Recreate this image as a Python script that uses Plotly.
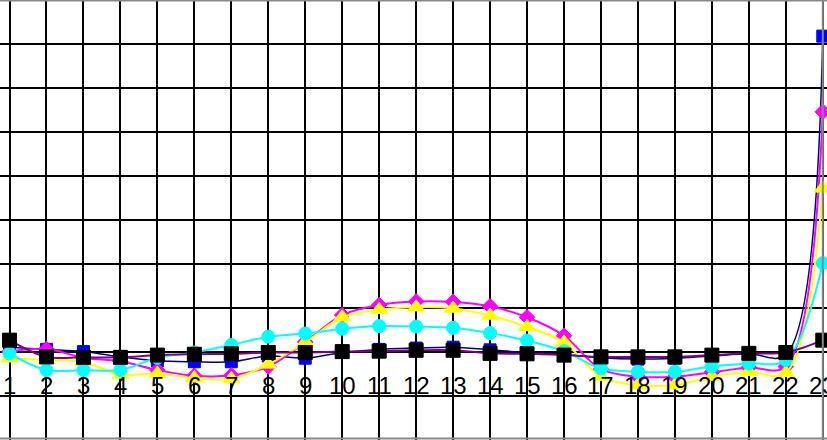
import plotly.graph_objects as go

categories = list(range(1, 24))
tick_labels = [str(c) for c in categories]

blue_sq = [0.12, 0.07, 0.02, -0.10, -0.19, -0.21, -0.21, -0.08, -0.13, 0.00, 0.07, 0.10,
           0.12, 0.06, 0.00, -0.04, -0.12, -0.15, -0.13, -0.08, -0.03, -0.05, 7.19]
magenta_dm = [0.02, 0.08, -0.12, -0.20, -0.40, -0.53, -0.52, -0.32, 0.24, 0.85, 1.08, 1.16,
              1.15, 1.05, 0.80, 0.38, -0.38, -0.55, -0.55, -0.45, -0.34, -0.32, 5.47]
yellow_tr = [-0.13, -0.17, -0.21, -0.50, -0.48, -0.58, -0.60, -0.27, 0.23, 0.80, 0.97, 1.03,
             1.00, 0.84, 0.58, 0.23, -0.55, -0.74, -0.74, -0.55, -0.44, -0.46, 3.73]
cyan_ci = [-0.02, -0.40, -0.40, -0.40, -0.12, 0.00, 0.17, 0.36, 0.43, 0.54, 0.60, 0.59,
           0.56, 0.44, 0.27, 0.03, -0.36, -0.44, -0.44, -0.32, -0.25, -0.17, 2.03]
black_sq = [0.28, -0.10, -0.11, -0.11, -0.06, -0.04, -0.03, 0.00, 0.00, 0.02, 0.03, 0.05,
            0.05, -0.02, -0.03, -0.06, -0.10, -0.10, -0.10, -0.06, -0.02, 0.00, 0.28]

series = [
    (blue_sq, "#000080", "#0000FF", "square", 12, 1.5),
    (magenta_dm, "#FF00FF", "#FF00FF", "diamond", 12, 2),
    (yellow_tr, "#FFFF00", "#FFFF00", "triangle-up", 15, 2),
    (cyan_ci, "#00FFFF", "#00FFFF", "circle", 13, 2),
    (black_sq, "#800080", "#000000", "square", 14, 2),
]

fig = go.Figure()
for vals, lc, mc, sym, ms, lw in series:
    fig.add_trace(go.Scatter(
        x=categories, y=vals, mode="lines+markers",
        line=dict(color=lc, width=lw, shape="spline", smoothing=1.0),
        marker=dict(symbol=sym, size=ms, color=mc, line=dict(color=mc, width=1)),
        showlegend=False, cliponaxis=False,
    ))

for c, t in zip(categories, tick_labels):
    fig.add_annotation(x=c, y=-0.74, xref="x", yref="y", text=t, showarrow=False,
                       font=dict(family="Liberation Sans, Arial", size=24, color="black"),
                       xanchor="center", yanchor="middle")

border = dict(color="#888888", width=2)
fig.add_shape(type="line", xref="paper", yref="paper", x0=0, x1=1, y0=1 - 0.5 / 440, y1=1 - 0.5 / 440, line=border)
fig.add_shape(type="line", xref="x", yref="paper", x0=23, x1=23, y0=0, y1=1, line=border)
fig.add_shape(type="line", xref="paper", yref="paper", x0=0, x1=1, y0=1.5 / 440, y1=1.5 / 440, line=border)

fig.update_xaxes(range=[0.743, 23.114], tick0=1, dtick=1, showgrid=True, gridcolor="black",
                 gridwidth=1.7, showticklabels=False, zeroline=False, showline=False, ticks="")
fig.update_yaxes(range=[-1.989, 8.011], tick0=0, dtick=1, showgrid=True, gridcolor="black",
                 gridwidth=1.6, showticklabels=False, zeroline=False, showline=False, ticks="")

fig.update_layout(width=827, height=440, margin=dict(l=0, r=0, t=0, b=0),
                  plot_bgcolor="white", paper_bgcolor="white")

fig.write_html("out.html", config={"displayModeBar": False},
               post_script="document.body.style.margin='0';document.body.style.overflow='hidden';")
